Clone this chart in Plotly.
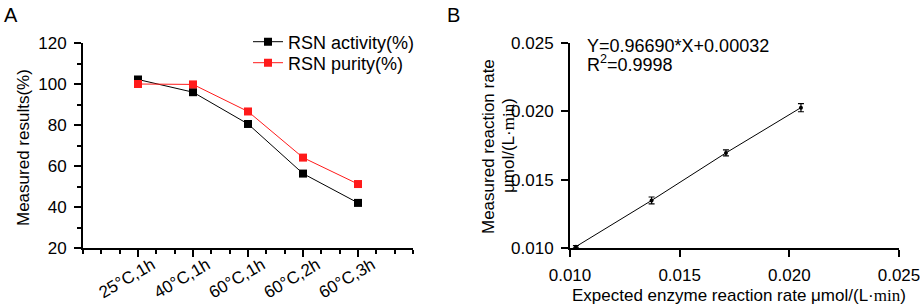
import plotly.graph_objects as go

# Panel A data
conditions = ["25°C,1h", "40°C,1h", "60°C,1h", "60°C,2h", "60°C,3h"]
cond_pos = [1, 2, 3, 4, 5]
activity = [102.2, 96.0, 80.5, 56.3, 42.0]
purity = [100.0, 99.8, 86.6, 64.1, 51.2]
a_yticks = [20, 40, 60, 80, 100, 120]

# Panel B data
expected_rate = [0.01027, 0.01372, 0.01711, 0.02053]
measured_rate = [0.01010, 0.01348, 0.01696, 0.02027]
measured_err = [0.00008, 0.00025, 0.00022, 0.00030]
b_ticks = [0.010, 0.015, 0.020, 0.025]

W, H = 920, 308
FONT = "Liberation Sans, Arial, sans-serif"
SERIF_MIN = '<span style="font-family:Liberation Serif, serif">min</span>'


def px(x):
    return x / W


def py(y):
    return 1 - y / H


fig = go.Figure()

fig.add_trace(go.Scatter(
    x=cond_pos, y=activity, name="RSN activity(%)", mode="lines+markers",
    line=dict(color="black", width=1), marker=dict(symbol="square", size=8, color="black"),
    xaxis="x", yaxis="y", cliponaxis=False, legend="legend"))
fig.add_trace(go.Scatter(
    x=cond_pos, y=purity, name="RSN purity(%)", mode="lines+markers",
    line=dict(color="#ff1a1a", width=1), marker=dict(symbol="square", size=8, color="#ff1a1a"),
    xaxis="x", yaxis="y", cliponaxis=False, legend="legend2"))

fig.add_trace(go.Scatter(
    x=expected_rate, y=measured_rate, mode="lines+markers", showlegend=False,
    line=dict(color="black", width=1), marker=dict(symbol="circle", size=4, color="black"),
    error_y=dict(type="data", array=measured_err, color="black", thickness=1.2, width=3),
    xaxis="x2", yaxis="y2", cliponaxis=False))

axis_common = dict(showgrid=False, zeroline=False, showline=True, linecolor="black", linewidth=2,
                   ticks="outside", tickcolor="black", tickwidth=1.5, ticklen=7, automargin=False,
                   ticklabelstandoff=4, ticklabeloverflow="allow",
                   tickfont=dict(family=FONT, size=17, color="black"))

legend_common = dict(xanchor="left", yanchor="middle", bgcolor="rgba(0,0,0,0)",
                     font=dict(family=FONT, size=18, color="black"), itemwidth=30)

fig.update_layout(
    width=W, height=H, margin=dict(l=0, r=0, t=0, b=0, autoexpand=False),
    paper_bgcolor="white", plot_bgcolor="white",
    font=dict(family=FONT, size=17, color="black"),
    xaxis=dict(domain=[px(83), px(413)], range=[0, 6], tickvals=cond_pos, showticklabels=False,
               anchor="y",
               minor=dict(tickvals=[i / 3 for i in range(19)], ticklen=4, tickcolor="black", tickwidth=1.5,
                          ticks="outside", showgrid=False),
               **axis_common),
    yaxis=dict(domain=[py(248), py(43)], range=[20, 120], tickvals=a_yticks, anchor="x",
               minor=dict(tickvals=[30, 50, 70, 90, 110], ticklen=4, tickcolor="black", tickwidth=1.5,
                          ticks="outside", showgrid=False),
               **axis_common),
    xaxis2=dict(domain=[px(570), px(899)], range=[0.010, 0.025], tickvals=b_ticks,
                tickformat=".3f", anchor="y2", **axis_common),
    yaxis2=dict(domain=[py(248), py(43)], range=[0.010, 0.025], tickvals=b_ticks,
                tickformat=".3f", anchor="x2", **axis_common),
    legend=dict(x=px(248), y=py(42), **legend_common),
    legend2=dict(x=px(248), y=py(63), **legend_common),
    showlegend=True,
)

ann = [
    dict(text="A", x=px(2), y=py(15), xanchor="left", yanchor="middle", font=dict(size=20)),
    dict(text="B", x=px(445), y=py(15), xanchor="left", yanchor="middle", font=dict(size=20)),
    dict(text="Measured results(%)", x=px(23), y=py(148), textangle=-90, xanchor="center", yanchor="middle"),
    dict(text="Measured reaction rate", x=px(488), y=py(147), textangle=-90,
         xanchor="center", yanchor="middle"),
    dict(text="μmol/(L·" + SERIF_MIN + ")", x=px(508), y=py(146), textangle=-90,
         xanchor="center", yanchor="middle"),
    dict(text="Expected enzyme reaction rate μmol/(L·" + SERIF_MIN + ")", x=px(739), y=py(295),
         xanchor="center", yanchor="middle"),
    dict(text="Y=0.96690*X+0.00032", x=px(585), y=py(46), xanchor="left", yanchor="middle", font=dict(size=18)),
    dict(text="R<sup>2</sup>=0.9998", x=px(585), y=py(63), xanchor="left", yanchor="middle", font=dict(size=18)),
]
for a in ann:
    size = a.pop("font", {}).get("size", 17)
    fig.add_annotation(xref="paper", yref="paper", showarrow=False,
                       font=dict(family=FONT, color="black", size=size), **a)

# Category tick labels of panel A, rotated like the reference
for pos, lab in zip(cond_pos, conditions):
    fig.add_annotation(x=pos, y=py(278), xref="x", yref="paper", text=lab, showarrow=False,
                       textangle=-30, xanchor="center", yanchor="middle", xshift=-11,
                       font=dict(family=FONT, color="black", size=17))

fig.write_html("out.html", config={"displayModeBar": False},
               post_script="document.body.style.margin='0';document.body.style.overflow='hidden';")
